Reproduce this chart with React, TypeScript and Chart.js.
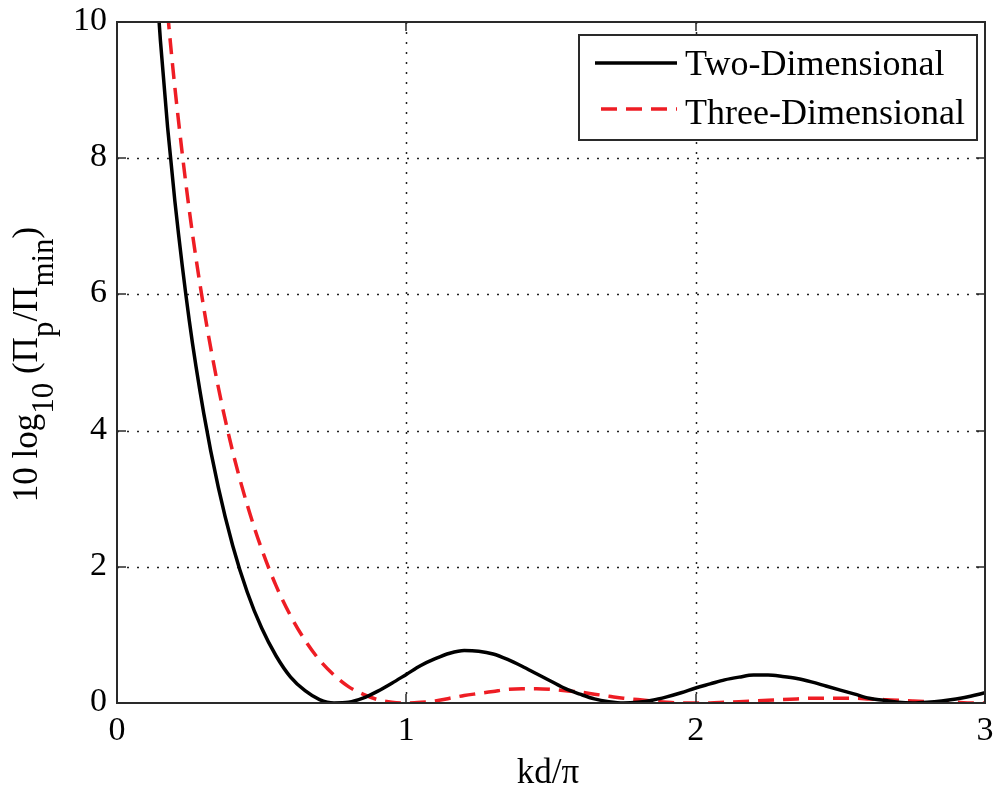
import React, { useEffect, useRef } from 'react';
import { Chart, registerables } from 'chart.js';

Chart.register(...registerables);

// ---- data ----
const kd = [
  0.10, 0.125, 0.15, 0.175, 0.20, 0.25, 0.30, 0.35, 0.40, 0.45, 0.50, 0.55, 0.60, 0.65, 0.70,
  0.75, 0.80, 0.85, 0.90, 0.95, 1.00, 1.05, 1.10, 1.15, 1.20, 1.25, 1.30, 1.35, 1.40, 1.45,
  1.50, 1.55, 1.60, 1.65, 1.70, 1.75, 1.80, 1.85, 1.90, 1.95, 2.00, 2.05, 2.10, 2.15, 2.20,
  2.25, 2.30, 2.35, 2.40, 2.45, 2.50, 2.55, 2.60, 2.65, 2.70, 2.75, 2.80, 2.85, 2.90, 2.95, 3.00,
];

const twoDimensional = [
  13.15, 11.26, 9.73, 8.45, 7.37, 5.61, 4.25, 3.17, 2.31, 1.63, 1.10, 0.69, 0.38, 0.18, 0.05,
  0.00, 0.01, 0.07, 0.17, 0.29, 0.42, 0.55, 0.65, 0.73, 0.77, 0.76, 0.72, 0.64, 0.54, 0.43,
  0.32, 0.21, 0.13, 0.06, 0.02, 0.00, 0.01, 0.04, 0.09, 0.15, 0.22, 0.28, 0.34, 0.38, 0.41,
  0.41, 0.39, 0.36, 0.31, 0.25, 0.19, 0.13, 0.07, 0.04, 0.01, 0.00, 0.01, 0.03, 0.06, 0.10, 0.15,
];

const threeDimensional = [
  14.89, 12.98, 11.44, 10.14, 9.04, 7.23, 5.80, 4.64, 3.69, 2.91, 2.26, 1.72, 1.28, 0.92, 0.63,
  0.41, 0.24, 0.13, 0.05, 0.01, 0.00, 0.01, 0.03, 0.07, 0.11, 0.14, 0.17, 0.20, 0.21, 0.21,
  0.20, 0.18, 0.16, 0.13, 0.10, 0.07, 0.05, 0.03, 0.01, 0.00, 0.00, 0.00, 0.01, 0.02, 0.03,
  0.04, 0.05, 0.06, 0.07, 0.07, 0.07, 0.07, 0.06, 0.05, 0.04, 0.03, 0.02, 0.01, 0.01, 0.00, 0.00,
];

const seriesLabels = ['Two-Dimensional', 'Three-Dimensional'];
const xTicks = [0, 1, 2, 3];
const yTicks = [0, 2, 4, 6, 8, 10];
const xTitle = 'kd/π';
// [text, isSubscript]
const yTitleParts: [string, boolean][] = [
  ['10 log', false],
  ['10', true],
  [' (Π', false],
  ['p', true],
  ['/Π', false],
  ['min', true],
  [')', false],
];

const FONT = '"Liberation Serif", "Times New Roman", Times, serif';
const RED = '#ee1d24';

const matlabFrame = {
  id: 'matlabFrame',
  beforeDatasetsDraw(chart: any) {
    const { ctx, chartArea: a, scales } = chart;
    const xs = scales.x;
    const ys = scales.y;
    ctx.save();
    ctx.strokeStyle = '#222';
    ctx.lineWidth = 1.5;
    ctx.setLineDash([2, 8]);
    for (const t of xTicks) {
      const px = Math.round(xs.getPixelForValue(t)) + 0.5;
      if (px <= a.left + 2 || px >= a.right - 2) continue;
      ctx.beginPath();
      ctx.moveTo(px, a.top);
      ctx.lineTo(px, a.bottom);
      ctx.stroke();
    }
    for (const t of yTicks) {
      const py = Math.round(ys.getPixelForValue(t)) + 0.5;
      if (py <= a.top + 2 || py >= a.bottom - 2) continue;
      ctx.beginPath();
      ctx.moveTo(a.left, py);
      ctx.lineTo(a.right, py);
      ctx.stroke();
    }
    ctx.restore();
  },
  afterDatasetsDraw(chart: any) {
    const { ctx, chartArea: a, scales } = chart;
    const xs = scales.x;
    const ys = scales.y;
    ctx.save();
    // box
    ctx.setLineDash([]);
    ctx.strokeStyle = '#2a2a2a';
    ctx.lineWidth = 2;
    ctx.strokeRect(a.left, a.top, a.right - a.left, a.bottom - a.top);
    // inward ticks
    const TL = 9;
    ctx.lineWidth = 1.5;
    for (const t of xTicks) {
      const px = Math.round(xs.getPixelForValue(t));
      ctx.beginPath();
      ctx.moveTo(px, a.bottom);
      ctx.lineTo(px, a.bottom - TL);
      ctx.moveTo(px, a.top);
      ctx.lineTo(px, a.top + TL);
      ctx.stroke();
    }
    for (const t of yTicks) {
      const py = Math.round(ys.getPixelForValue(t));
      ctx.beginPath();
      ctx.moveTo(a.left, py);
      ctx.lineTo(a.left + TL, py);
      ctx.moveTo(a.right, py);
      ctx.lineTo(a.right - TL, py);
      ctx.stroke();
    }

    // tick labels, taken from the scales' own ticks
    ctx.fillStyle = '#000';
    ctx.font = `34px ${FONT}`;
    ctx.textBaseline = 'middle';
    ctx.textAlign = 'right';
    for (const t of ys.ticks) {
      ctx.fillText(String(t.label), a.left - 10, ys.getPixelForValue(t.value) - 1);
    }
    ctx.textAlign = 'center';
    for (const t of xs.ticks) {
      ctx.fillText(String(t.label), xs.getPixelForValue(t.value), a.bottom + 28);
    }

    // legend
    const lx0 = 579, ly0 = 35, lx1 = 977, ly1 = 140;
    ctx.fillStyle = '#fff';
    ctx.fillRect(lx0, ly0, lx1 - lx0, ly1 - ly0);
    ctx.strokeStyle = '#2a2a2a';
    ctx.lineWidth = 2;
    ctx.strokeRect(lx0, ly0, lx1 - lx0, ly1 - ly0);
    const rows = [
      { lineY: 63, baseY: 75 },
      { lineY: 109, baseY: 124 },
    ];
    chart.data.datasets.forEach((ds: any, i: number) => {
      const r = rows[i];
      ctx.save();
      ctx.strokeStyle = ds.borderColor;
      ctx.lineWidth = ds.borderWidth;
      ctx.setLineDash(ds.borderDash || []);
      ctx.beginPath();
      ctx.moveTo(i === 0 ? 595 : 601, r.lineY);
      ctx.lineTo(677, r.lineY);
      ctx.stroke();
      ctx.restore();
      ctx.fillStyle = '#000';
      ctx.font = `36px ${FONT}`;
      ctx.textAlign = 'left';
      ctx.textBaseline = 'alphabetic';
      ctx.fillText(ds.label, 685, r.baseY);
    });

    // x title
    ctx.fillStyle = '#000';
    ctx.font = `35px ${FONT}`;
    ctx.textAlign = 'center';
    ctx.textBaseline = 'alphabetic';
    ctx.fillText(xTitle, (a.left + a.right) / 2 - 3, 783);

    // y title with subscripts
    const mainFont = `35px ${FONT}`;
    const subFont = `31px ${FONT}`;
    let total = 0;
    for (const [txt, sub] of yTitleParts) {
      ctx.font = sub ? subFont : mainFont;
      total += ctx.measureText(txt).width;
    }
    ctx.save();
    ctx.translate(37, (a.top + a.bottom) / 2 + 2);
    ctx.rotate(-Math.PI / 2);
    ctx.textAlign = 'left';
    let cx = -total / 2;
    for (const [txt, sub] of yTitleParts) {
      ctx.font = sub ? subFont : mainFont;
      ctx.fillText(txt, cx, sub ? 16 : 0);
      cx += ctx.measureText(txt).width;
    }
    ctx.restore();
    ctx.restore();
  },
};

export default function App() {
  const canvasRef = useRef<HTMLCanvasElement | null>(null);

  useEffect(() => {
    const canvas = canvasRef.current;
    if (!canvas) return;
    const chart = new Chart(canvas, {
      type: 'line',
      data: {
        datasets: [
          {
            label: seriesLabels[0],
            data: kd.map((x, i) => ({ x, y: twoDimensional[i] })),
            borderColor: '#000000',
            borderWidth: 3.5,
            pointRadius: 0,
            fill: false,
            cubicInterpolationMode: 'monotone',
          },
          {
            label: seriesLabels[1],
            data: kd.map((x, i) => ({ x, y: threeDimensional[i] })),
            borderColor: RED,
            borderWidth: 3.5,
            borderDash: [16, 9],
            pointRadius: 0,
            fill: false,
            cubicInterpolationMode: 'monotone',
          },
        ],
      },
      options: {
        responsive: false,
        animation: false,
        devicePixelRatio: 1,
        layout: { padding: { top: 22, right: 11, left: 0, bottom: 0 } },
        plugins: {
          legend: { display: false },
          tooltip: { enabled: false },
          title: { display: false },
        },
        scales: {
          x: {
            type: 'linear',
            min: 0,
            max: 3,
            afterFit: (s: any) => {
              s.height = 87;
            },
            ticks: { stepSize: 1, display: false },
            grid: { display: false },
            border: { display: false },
          },
          y: {
            type: 'linear',
            min: 0,
            max: 10,
            afterFit: (s: any) => {
              s.width = 117;
            },
            ticks: { stepSize: 2, display: false },
            grid: { display: false },
            border: { display: false },
          },
        },
      },
      plugins: [matlabFrame],
    });
    return () => chart.destroy();
  }, []);

  return (
    <div style={{ position: 'absolute', left: 0, top: 0, width: 996, height: 790, background: '#fff' }}>
      <canvas ref={canvasRef} width={996} height={790} style={{ display: 'block' }} />
    </div>
  );
}
